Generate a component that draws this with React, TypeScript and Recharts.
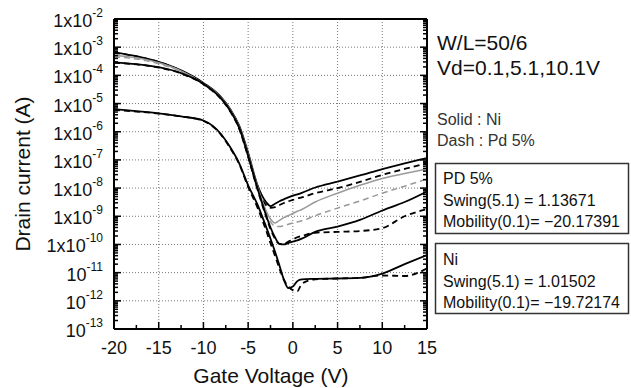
import React from 'react';
import { LineChart, Line, XAxis, YAxis, CartesianGrid } from 'recharts';

// gate voltage sweep (V)
const vGate = [-20, -17.5, -15, -12.5, -10, -8, -7, -6, -5, -4, -3, -2.5, -2, -1.5, -1, -0.5, 0, 0.5, 1, 2.5, 5, 7.5, 10, 12.5, 15];

// drain current (A)
const niHigh = [6.6e-4, 4.8e-4, 3.0e-4, 1.5e-4, 5.4e-5, 1.66e-5, 6.3e-6, 1.66e-6, 1.8e-7, 1.4e-8, 3.2e-9, 2.3e-9, 2.8e-9, 3.4e-9, 4.0e-9, 4.7e-9, 5.4e-9, 6.0e-9, 6.8e-9, 1.05e-8, 1.7e-8, 2.8e-8, 4.7e-8, 7.6e-8, 1.17e-7];
const pdHigh = [6.3e-4, 4.7e-4, 2.95e-4, 1.48e-4, 5.0e-5, 1.5e-5, 5.6e-6, 1.4e-6, 1.4e-7, 1.1e-8, 2.5e-9, 2.0e-9, 2.1e-9, 2.5e-9, 2.95e-9, 3.4e-9, 3.8e-9, 4.3e-9, 4.7e-9, 6.6e-9, 1.0e-8, 1.66e-8, 2.95e-8, 4.8e-8, 7.6e-8];
const niGray = [5.2e-4, 4.2e-4, 2.8e-4, 1.45e-4, 5.1e-5, 1.6e-5, 5.9e-6, 1.5e-6, 1.6e-7, 1.26e-8, 1.6e-9, 8.0e-10, 5.8e-10, 7.1e-10, 8.9e-10, 1.07e-9, 1.26e-9, 1.5e-9, 1.74e-9, 3.2e-9, 6.6e-9, 1.26e-8, 2.2e-8, 3.3e-8, 4.8e-8];
const pdGray = [4.6e-4, 3.8e-4, 2.6e-4, 1.38e-4, 5.0e-5, 1.5e-5, 5.6e-6, 1.4e-6, 1.4e-7, 1.1e-8, 1.4e-9, 6.3e-10, 4.5e-10, 4.3e-10, 4.7e-10, 5.2e-10, 5.8e-10, 6.3e-10, 6.9e-10, 1.05e-9, 1.95e-9, 3.5e-9, 6.6e-9, 1.17e-8, 2.1e-8];
const niMid = [2.9e-4, 2.5e-4, 1.95e-4, 1.2e-4, 5.0e-5, 1.5e-5, 5.6e-6, 1.4e-6, 1.4e-7, 1.1e-8, 1.1e-9, 4.0e-10, 1.8e-10, 1.05e-10, 1.0e-10, 1.12e-10, 1.26e-10, 1.4e-10, 1.6e-10, 2.8e-10, 4.3e-10, 7.4e-10, 1.6e-9, 3.2e-9, 7.6e-9];
const pdMid = [2.8e-4, 2.45e-4, 1.9e-4, 1.17e-4, 4.8e-5, 1.4e-5, 5.2e-6, 1.26e-6, 1.26e-7, 1.0e-8, 1.0e-9, 3.5e-10, 1.6e-10, 1.05e-10, 1.05e-10, 1.26e-10, 1.5e-10, 1.8e-10, 2.0e-10, 2.6e-10, 2.8e-10, 3.0e-10, 3.8e-10, 1.0e-9, 1.8e-9];
const niLow = [6.3e-6, 5.4e-6, 4.5e-6, 3.5e-6, 2.5e-6, 8.0e-7, 2.8e-7, 7.6e-8, 1.26e-8, 2.8e-9, 4.3e-10, 1.6e-10, 5.6e-11, 1.8e-11, 5.6e-12, 2.8e-12, 3.2e-12, 5.0e-12, 5.8e-12, 6.0e-12, 6.2e-12, 6.5e-12, 9.3e-12, 2.0e-11, 4.2e-11];
const pdLow = [6.0e-6, 5.2e-6, 4.4e-6, 3.5e-6, 2.4e-6, 7.6e-7, 2.6e-7, 7.1e-8, 1.1e-8, 2.2e-9, 3.2e-10, 1.1e-10, 4.0e-11, 1.4e-11, 5.6e-12, 3.2e-12, 2.4e-12, 2.2e-12, 4.0e-12, 5.8e-12, 6.2e-12, 6.6e-12, 7.9e-12, 7.6e-12, 1.4e-11];

// axis ticks
const xMajor = [-20, -15, -10, -5, 0, 5, 10, 15];
const xMinor = [-17.5, -12.5, -7.5, -2.5, 2.5, 7.5, 12.5];
const yExps = [-2, -3, -4, -5, -6, -7, -8, -9, -10, -11, -12, -13];

const yMajor = yExps.map((e) => Math.pow(10, e));
const yMinor: number[] = [];
yExps.slice(1).forEach((e) => {
  for (let m = 2; m <= 9; m++) yMinor.push(m * Math.pow(10, e));
});
const yTicks = [...yMajor, ...yMinor].sort((a, b) => a - b);
const xTicks = [...xMajor, ...xMinor].sort((a, b) => a - b);

const toPts = (cur: number[]) => vGate.map((v, k) => ({ v, i: cur[k] }));

const FONT = '"Liberation Sans", Arial, sans-serif';
const isDecade = (val: number) => Math.abs(Math.log10(val) - Math.round(Math.log10(val))) < 1e-6;
const isMajorX = (val: number) => xMajor.includes(val);

const LeftTick = (props: any) => {
  const { x, y, payload } = props;
  const major = isDecade(payload.value);
  const exp = Math.round(Math.log10(payload.value));
  return (
    <g>
      <line x1={x} x2={x + (major ? 7 : 4)} y1={y} y2={y} stroke="#000" strokeWidth={1.5} />
      {major && (
        <text x={x - 11} y={y + 8} textAnchor="end" fontFamily={FONT} fontSize={18} fill="#111">
          <tspan>{exp >= -10 ? '1x10' : '10'}</tspan>
          <tspan dy={-10} fontSize={12}>{exp}</tspan>
        </text>
      )}
    </g>
  );
};

const RightTick = (props: any) => {
  const { x, y, payload } = props;
  const major = isDecade(payload.value);
  return <line x1={x} x2={x - (major ? 7 : 4)} y1={y} y2={y} stroke="#000" strokeWidth={1.5} />;
};

const BottomTick = (props: any) => {
  const { x, y, payload } = props;
  const major = isMajorX(payload.value);
  return (
    <g>
      <line x1={x} x2={x} y1={y} y2={y - (major ? 7 : 4)} stroke="#000" strokeWidth={1.5} />
      {major && (
        <text x={x} y={y + 25} textAnchor="middle" fontFamily={FONT} fontSize={18} fill="#111">
          {payload.value}
        </text>
      )}
    </g>
  );
};

const TopTick = (props: any) => {
  const { x, y, payload } = props;
  const major = isMajorX(payload.value);
  return <line x1={x} x2={x} y1={y} y2={y + (major ? 7 : 4)} stroke="#000" strokeWidth={1.5} />;
};

const curves = [
  { key: 'niHigh', data: niHigh, color: '#000', dash: undefined, w: 1.8 },
  { key: 'pdHigh', data: pdHigh, color: '#000', dash: '6 4', w: 1.8 },
  { key: 'niGray', data: niGray, color: '#999', dash: undefined, w: 1.5 },
  { key: 'pdGray', data: pdGray, color: '#999', dash: '6 4', w: 1.5 },
  { key: 'niMid', data: niMid, color: '#000', dash: undefined, w: 1.8 },
  { key: 'pdMid', data: pdMid, color: '#000', dash: '6 4', w: 1.8 },
  { key: 'niLow', data: niLow, color: '#000', dash: undefined, w: 1.8 },
  { key: 'pdLow', data: pdLow, color: '#000', dash: '6 4', w: 1.8 },
];

const axisLine = { stroke: '#000', strokeWidth: 2 };

export default function App() {
  return (
    <div style={{ position: 'absolute', left: 0, top: 0, width: 631, height: 388, background: '#fff' }}>
      <LineChart width={631} height={388} margin={{ top: 18, right: 203, bottom: 29, left: 54 }}>
        <CartesianGrid
          xAxisId="x"
          yAxisId="y"
          stroke="#777"
          strokeDasharray="1 2"
          horizontalValues={yMajor.slice(1, -1)}
          verticalValues={xMajor.slice(1, -1)}
        />
        <XAxis
          xAxisId="x"
          dataKey="v"
          type="number"
          domain={[-20, 15]}
          allowDataOverflow
          ticks={xTicks}
          interval={0}
          height={30}
          tickSize={0}
          tickMargin={0}
          tickLine={false}
          axisLine={axisLine}
          tick={BottomTick}
        />
        <XAxis
          xAxisId="top"
          orientation="top"
          type="number"
          domain={[-20, 15]}
          allowDataOverflow
          ticks={xTicks}
          interval={0}
          height={1}
          tickSize={0}
          tickMargin={0}
          tickLine={false}
          axisLine={axisLine}
          tick={TopTick}
        />
        <YAxis
          yAxisId="y"
          scale="log"
          type="number"
          domain={[1e-13, 1e-2]}
          allowDataOverflow
          ticks={yTicks}
          interval={0}
          width={60}
          tickSize={0}
          tickMargin={0}
          tickLine={false}
          axisLine={axisLine}
          tick={LeftTick}
        />
        <YAxis
          yAxisId="yr"
          orientation="right"
          scale="log"
          type="number"
          domain={[1e-13, 1e-2]}
          allowDataOverflow
          ticks={yTicks}
          interval={0}
          width={1}
          tickSize={0}
          tickMargin={0}
          tickLine={false}
          axisLine={axisLine}
          tick={RightTick}
        />
        {curves.map((c) => (
          <Line
            key={c.key}
            xAxisId="x"
            yAxisId="y"
            data={toPts(c.data)}
            dataKey="i"
            type="monotone"
            stroke={c.color}
            strokeWidth={c.w}
            strokeDasharray={c.dash}
            dot={false}
            isAnimationActive={false}
          />
        ))}
      </LineChart>
      <svg
        width={631}
        height={388}
        style={{ position: 'absolute', left: 0, top: 0, pointerEvents: 'none' }}
        fontFamily={FONT}
      >
        <text x={22} y={174} transform="rotate(-90 22 174)" textAnchor="middle" dominantBaseline="central" fontSize={21} fill="#111">
          Drain current (A)
        </text>
        <text x={271} y={383} textAnchor="middle" fontSize={21} fill="#111">
          Gate Voltage (V)
        </text>
        <text x={437} y={50} fontSize={21} fill="#111">W/L=50/6</text>
        <text x={437} y={75} fontSize={21} fill="#111">Vd=0.1,5.1,10.1V</text>
        <text x={437} y={125} fontSize={16} fill="#333">Solid : Ni</text>
        <text x={437} y={146} fontSize={16} fill="#333">Dash : Pd 5%</text>
        <rect x={435.5} y={163.5} width={193} height={70} fill="#fff" stroke="#333" strokeWidth={1.5} />
        <text x={443} y={184} fontSize={16} fill="#111">PD 5%</text>
        <text x={443} y={206} fontSize={16} fill="#111">Swing(5.1) = 1.13671</text>
        <text x={443} y={227} fontSize={16} fill="#111">Mobility(0.1)= −20.17391</text>
        <rect x={435.5} y={243.5} width={193} height={70} fill="#fff" stroke="#333" strokeWidth={1.5} />
        <text x={443} y={265} fontSize={16} fill="#111">Ni</text>
        <text x={443} y={287} fontSize={16} fill="#111">Swing(5.1) = 1.01502</text>
        <text x={443} y={308} fontSize={16} fill="#111">Mobility(0.1)= −19.72174</text>
      </svg>
    </div>
  );
}
